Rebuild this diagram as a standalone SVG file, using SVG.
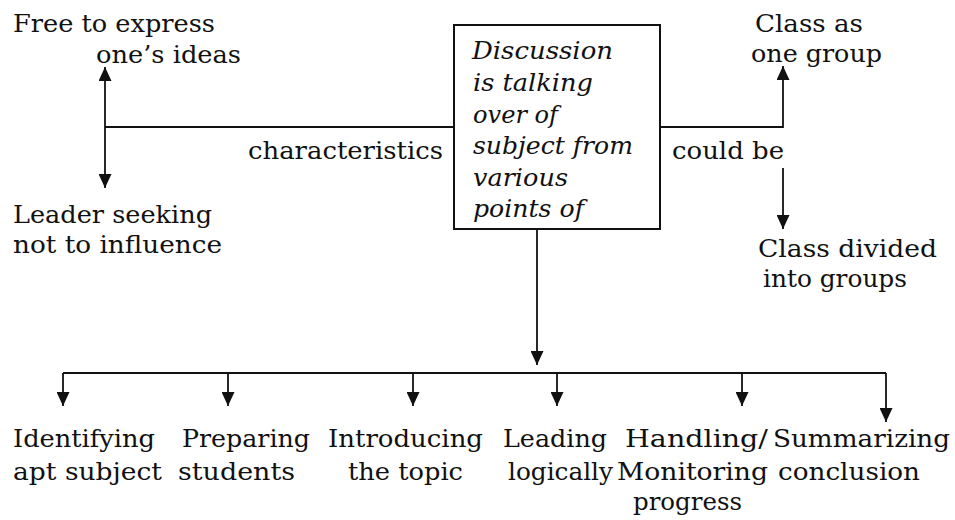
<svg xmlns="http://www.w3.org/2000/svg" width="955" height="520" viewBox="0 0 955 520">
  <style>
    text { font-family: "DejaVu Serif", "Liberation Serif", serif; font-size: 25px; fill: #111; }
    .it { font-style: italic; }
    .conn { stroke: #111; stroke-width: 1.8; fill: none; }
    .box { stroke: #111; stroke-width: 2; fill: #fff; }
  </style>
  <defs>
    <marker id="arrow" markerUnits="userSpaceOnUse" markerWidth="14" markerHeight="13" refX="14" refY="6.5" orient="auto">
      <path d="M0,0 L14,6.5 L0,13 z" fill="#111"/>
    </marker>
    <clipPath id="boxClip">
      <rect x="455" y="26" width="204" height="197"/>
    </clipPath>
  </defs>

  <!-- connectors -->
  <g id="connectors">
    <path class="conn" d="M454,127 H105"/>
    <path class="conn" d="M105,127 V67" marker-end="url(#arrow)"/>
    <path class="conn" d="M105,127 V188" marker-end="url(#arrow)"/>
    <path class="conn" d="M660,127 H783 V66" marker-end="url(#arrow)"/>
    <path class="conn" d="M783,168 V229" marker-end="url(#arrow)"/>
    <path class="conn" d="M537,229 V365" marker-end="url(#arrow)"/>
    <path class="conn" d="M63,373 H886"/>
    <path class="conn" d="M63,373 V406" marker-end="url(#arrow)"/>
    <path class="conn" d="M228,373 V406" marker-end="url(#arrow)"/>
    <path class="conn" d="M413,373 V406" marker-end="url(#arrow)"/>
    <path class="conn" d="M557,373 V406" marker-end="url(#arrow)"/>
    <path class="conn" d="M742,373 V406" marker-end="url(#arrow)"/>
    <path class="conn" d="M886,373 V422" marker-end="url(#arrow)"/>
  </g>

  <!-- connector labels -->
  <g id="labels">
    <text x="248" y="159" textLength="195" lengthAdjust="spacingAndGlyphs">characteristics</text>
    <text x="672" y="159" textLength="112" lengthAdjust="spacingAndGlyphs">could be</text>
  </g>

  <!-- central definition box -->
  <g id="discussion">
    <rect class="box" x="454" y="25" width="206" height="204"/>
    <g clip-path="url(#boxClip)">
      <text class="it" x="472" y="59" textLength="141" lengthAdjust="spacingAndGlyphs">Discussion</text>
      <text class="it" x="473" y="91" textLength="120" lengthAdjust="spacingAndGlyphs">is talking</text>
      <text class="it" x="473" y="123" textLength="85" lengthAdjust="spacingAndGlyphs">over of</text>
      <text class="it" x="473" y="154" textLength="160" lengthAdjust="spacingAndGlyphs">subject from</text>
      <text class="it" x="473" y="186" textLength="95" lengthAdjust="spacingAndGlyphs">various</text>
      <text class="it" x="473" y="217" textLength="111" lengthAdjust="spacingAndGlyphs">points of</text>
    </g>
  </g>

  <g id="free-expression">
    <text x="13" y="32" textLength="202" lengthAdjust="spacingAndGlyphs">Free to express</text>
    <text x="96" y="63" textLength="145" lengthAdjust="spacingAndGlyphs">one’s ideas</text>
  </g>

  <g id="leader-neutral">
    <text x="13" y="223" textLength="199" lengthAdjust="spacingAndGlyphs">Leader seeking</text>
    <text x="13" y="253" textLength="209" lengthAdjust="spacingAndGlyphs">not to influence</text>
  </g>

  <g id="one-group">
    <text x="755" y="32" textLength="108" lengthAdjust="spacingAndGlyphs">Class as</text>
    <text x="751" y="62" textLength="131" lengthAdjust="spacingAndGlyphs">one group</text>
  </g>

  <g id="divided-groups">
    <text x="758" y="257" textLength="179" lengthAdjust="spacingAndGlyphs">Class divided</text>
    <text x="763" y="287" textLength="144" lengthAdjust="spacingAndGlyphs">into groups</text>
  </g>

  <!-- steps -->
  <g id="step-identify">
    <text x="13" y="447" textLength="142" lengthAdjust="spacingAndGlyphs">Identifying</text>
    <text x="13" y="480" textLength="149" lengthAdjust="spacingAndGlyphs">apt subject</text>
  </g>
  <g id="step-prepare">
    <text x="182" y="447" textLength="128" lengthAdjust="spacingAndGlyphs">Preparing</text>
    <text x="178" y="480" textLength="117" lengthAdjust="spacingAndGlyphs">students</text>
  </g>
  <g id="step-introduce">
    <text x="328" y="447" textLength="155" lengthAdjust="spacingAndGlyphs">Introducing</text>
    <text x="348" y="480" textLength="115" lengthAdjust="spacingAndGlyphs">the topic</text>
  </g>
  <g id="step-lead">
    <text x="503" y="447" textLength="104" lengthAdjust="spacingAndGlyphs">Leading</text>
    <text x="508" y="480" textLength="105" lengthAdjust="spacingAndGlyphs">logically</text>
  </g>
  <g id="step-monitor">
    <text x="625" y="447" textLength="143" lengthAdjust="spacingAndGlyphs">Handling/</text>
    <text x="617" y="480" textLength="151" lengthAdjust="spacingAndGlyphs">Monitoring</text>
    <text x="633" y="510" textLength="109" lengthAdjust="spacingAndGlyphs">progress</text>
  </g>
  <g id="step-summarize">
    <text x="773" y="447" textLength="177" lengthAdjust="spacingAndGlyphs">Summarizing</text>
    <text x="778" y="480" textLength="142" lengthAdjust="spacingAndGlyphs">conclusion</text>
  </g>
</svg>
